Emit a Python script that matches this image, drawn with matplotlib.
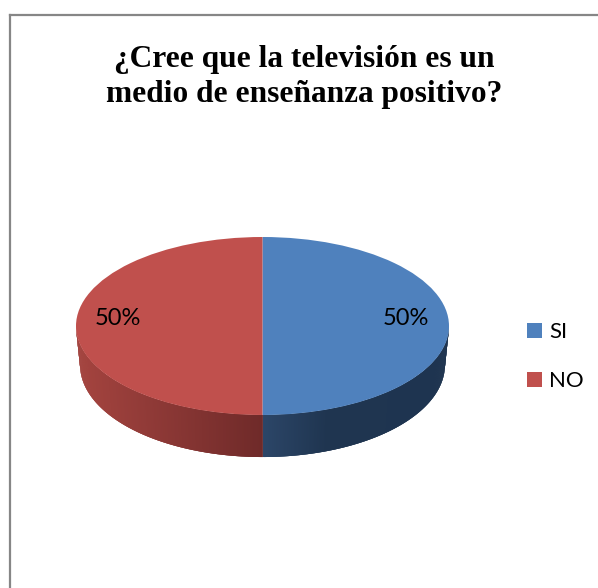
import numpy as np
import matplotlib
matplotlib.use("Agg")
import matplotlib.pyplot as plt
from matplotlib.colors import to_rgb

# chart data
categories = ["SI", "NO"]
values = [50, 50]
title = "¿Cree que la televisión es un\nmedio de enseñanza positivo?"

W, H = 598, 588
top_colors = ["#4F81BD", "#C0504D"]
# wall shade at left edge, at the break, and at right edge of each slice
wall_stops = [
    ["#2C4668", "#1F3550", "#1E3450"],
    ["#A5443F", "#923B38", "#6F2A29"],
]
shade_break = 0.35
# bottom rim of the wall is a slightly different ellipse (perspective)
rim_x, rim_y, rim_drop = 0.978, 1.034, 39 / 89

fig = plt.figure(figsize=(W / 100, H / 100), dpi=100)
fig.patch.set_facecolor("white")

# axes box is exactly the ellipse of the pie top
ax = fig.add_axes([76 / W, 1 - 415 / H, 373 / W, 178 / H])
wedges, _ = ax.pie(values, colors=top_colors, startangle=90, counterclock=False, radius=1,
                   wedgeprops={"lw": 0})
ax.set_aspect("auto")
ax.set_xlim(-1, 1)
ax.set_ylim(-1, 1)
ax.axis("off")

# side wall, only the front half of each slice is visible
start = 90.0
total = sum(values)
for i, v in enumerate(values):
    end = start - 360.0 * v / total
    a = np.radians(np.linspace(start, end, 721))
    a = a[np.sin(a) <= 0]
    if a[0] > a[-1]:
        a = a[::-1]
    x = np.cos(a)
    y = np.sin(a)
    lo, hi = x.min(), x.max()
    c0, c1, c2 = [np.array(to_rgb(c)) for c in wall_stops[i]]
    # strips overlap the next one so no seams show
    for j in range(len(a) - 1):
        k = min(j + 3, len(a) - 1)
        t = (0.5 * (x[j] + x[j + 1]) - lo) / (hi - lo)
        if t < shade_break:
            col = c0 + (c1 - c0) * t / shade_break
        else:
            col = c1 + (c2 - c1) * (t - shade_break) / (1 - shade_break)
        ax.fill([x[j], x[k], rim_x * x[k], rim_x * x[j]],
                [y[j], y[k], rim_y * y[k] - rim_drop, rim_y * y[j] - rim_drop],
                color=col, lw=0, clip_on=False, zorder=0)
    start = end

# percent labels
label_pos = [(0.767, 0.08), (-0.777, 0.08)]
for (lx, ly), v in zip(label_pos, values):
    ax.text(lx, ly, "%d%%" % round(100 * v / total), ha="center", va="center",
            fontsize=17, family="Lato", color="black")

fig.text(304.5 / W, 1 - 77 / H, title, ha="center", va="center", family="Liberation Serif",
         fontweight="bold", fontsize=22.6, linespacing=1.27, color="black")

fig.legend(wedges, categories, loc="center left", bbox_to_anchor=(527 / W, 1 - 356.5 / H),
           frameon=False, prop={"family": "Lato", "size": 16}, handlelength=0.68,
           handleheight=0.68, handletextpad=0.32, labelspacing=1.3, borderpad=0, borderaxespad=0)

# chart frame: only top and left edges fall inside the crop
fig.add_artist(plt.Line2D([10 / W, 10 / W], [0, 1 - 15 / H], color="#868686", lw=1.6))
fig.add_artist(plt.Line2D([10 / W, 1], [1 - 15 / H, 1 - 15 / H], color="#868686", lw=1.6))

fig.savefig("out.png", dpi=100)
